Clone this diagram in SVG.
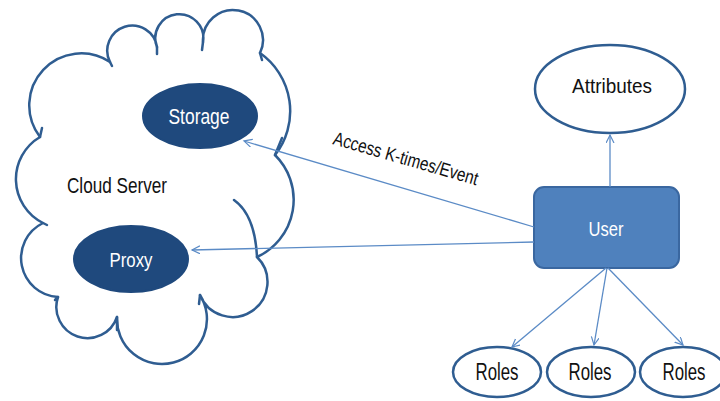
<svg xmlns="http://www.w3.org/2000/svg" width="720" height="401" viewBox="0 0 720 401">
<defs>
<marker id="ah" markerUnits="userSpaceOnUse" markerWidth="10" markerHeight="10" refX="8" refY="4" orient="auto">
<path d="M0,0 L8,4 L0,8" fill="none" stroke="#5b8bc6" stroke-width="1.2"/>
</marker>
<style>
.cloud{fill:#fff;stroke:#2f5d91;stroke-width:2.5;stroke-linejoin:round;stroke-linecap:round}
.hook{fill:none;stroke:#2f5d91;stroke-width:2.5;stroke-linecap:round}
.dark{fill:#1f497d;stroke:#1f497d;stroke-width:2}
.oval{fill:#fff;stroke:#2f5d91;stroke-width:2.5}
.wt{fill:#fff;font-family:"Liberation Sans",Arial,sans-serif}
.bt{fill:#111;font-family:"Liberation Sans",Arial,sans-serif}
.conn{stroke:#5b8bc6;stroke-width:1.3;fill:none;marker-end:url(#ah)}
</style>
</defs>
<rect width="720" height="401" fill="#fff"/>
<g id="cloud">
<path class="cloud" d="M40,137 A49,49 0 0 0 43,223 A39,39 0 0 0 58,297 A31,31 0 0 0 117,317 A45,45 0 1 0 200,295 A35,35 0 1 0 257,257 A63,63 0 0 0 275,155 A71,71 0 0 0 260,53 A30,30 0 1 0 203,42 A24,24 0 1 0 157,47 A25,25 0 1 0 110,62 A52,52 0 0 0 40,137 Z"/>
<path class="hook" d="M40,137 L42,128"/>
<path class="hook" d="M43,223 L47,225"/>
<path class="hook" d="M58,297 L55,300"/>
<path class="hook" d="M117,317 L117,330"/>
<path class="hook" d="M200,295 L199,304"/>
<path class="hook" d="M257,257 Q255,215 234,200"/>
<path class="hook" d="M275,155 L282,138"/>
<path class="hook" d="M260,53 L262,60"/>
<path class="hook" d="M203,42 L202,50"/>
<path class="hook" d="M157,47 L157,54"/>
<path class="hook" d="M110,62 L112,66"/>
<text class="bt" x="67" y="193" font-size="22" textLength="100" lengthAdjust="spacingAndGlyphs">Cloud Server</text>
</g>
<g id="storage">
<ellipse class="dark" cx="200" cy="116" rx="57" ry="32"/>
<text class="wt" x="199" y="124" font-size="22" text-anchor="middle" textLength="61" lengthAdjust="spacingAndGlyphs">Storage</text>
</g>
<g id="proxy">
<ellipse class="dark" cx="131" cy="259" rx="57" ry="33"/>
<text class="wt" x="131" y="267" font-size="21" text-anchor="middle" textLength="43" lengthAdjust="spacingAndGlyphs">Proxy</text>
</g>
<g id="user">
<rect x="534" y="187" width="145" height="81" rx="10" fill="#4f81bd" stroke="#3a67a0" stroke-width="2"/>
<text class="wt" x="606" y="236" font-size="21" text-anchor="middle" textLength="35" lengthAdjust="spacingAndGlyphs">User</text>
</g>
<g id="attributes">
<ellipse class="oval" cx="610" cy="89" rx="75" ry="44"/>
<text class="bt" x="612" y="93" font-size="21" text-anchor="middle" textLength="80" lengthAdjust="spacingAndGlyphs">Attributes</text>
</g>
<g id="roles1">
<ellipse class="oval" cx="497" cy="372" rx="44" ry="25"/>
<text class="bt" x="497" y="380" font-size="23" text-anchor="middle" textLength="43" lengthAdjust="spacingAndGlyphs">Roles</text>
</g>
<g id="roles2">
<ellipse class="oval" cx="591" cy="372" rx="44" ry="25"/>
<text class="bt" x="590" y="380" font-size="23" text-anchor="middle" textLength="43" lengthAdjust="spacingAndGlyphs">Roles</text>
</g>
<g id="roles3">
<ellipse class="oval" cx="683" cy="372" rx="43" ry="25"/>
<text class="bt" x="684" y="380" font-size="23" text-anchor="middle" textLength="43" lengthAdjust="spacingAndGlyphs">Roles</text>
</g>
<g id="connectors">
<line class="conn" x1="534" y1="227" x2="244" y2="141"/>
<line class="conn" x1="534" y1="242" x2="192" y2="250"/>
<line class="conn" x1="610" y1="187" x2="610" y2="135"/>
<line class="conn" x1="606" y1="268" x2="512" y2="347"/>
<line class="conn" x1="607" y1="268" x2="594" y2="345"/>
<line class="conn" x1="608" y1="268" x2="683" y2="345"/>
<text class="bt" transform="translate(332,144) rotate(16)" font-size="19" textLength="150" lengthAdjust="spacingAndGlyphs">Access K-times/Event</text>
</g>
</svg>
